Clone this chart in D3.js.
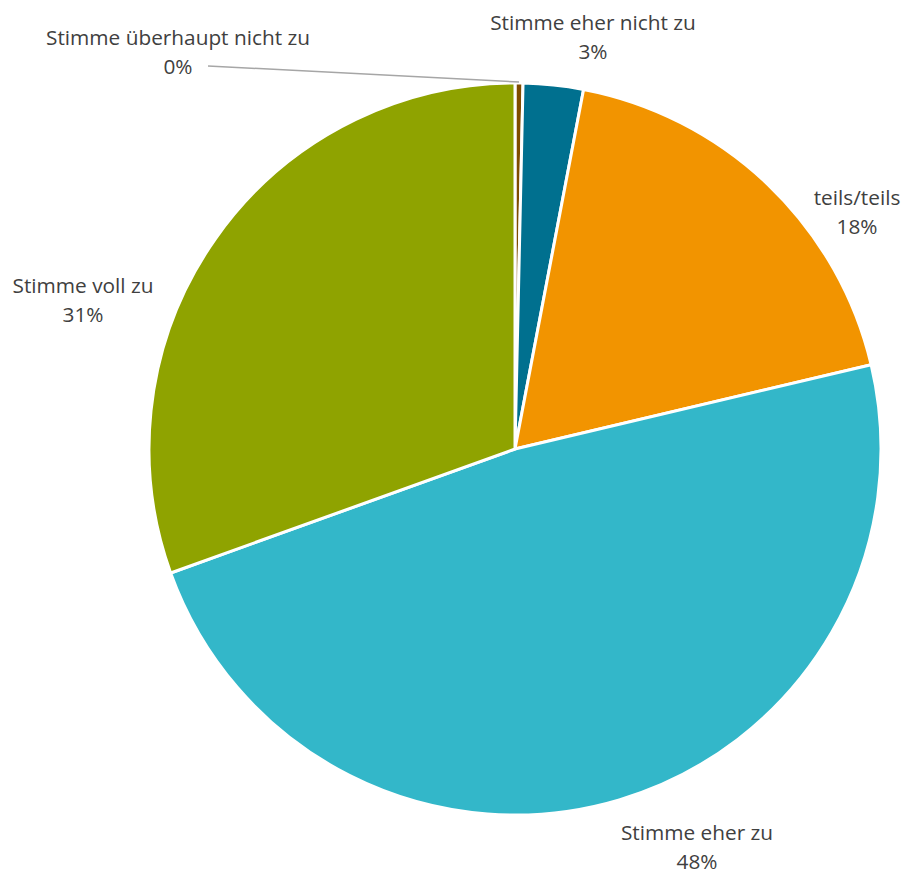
<!DOCTYPE html>
<html>
<head>
<meta charset="utf-8">
<script src="https://cdn.jsdelivr.net/npm/d3@7/dist/d3.min.js"></script>
<style>
  html, body { margin: 0; padding: 0; background: #ffffff; }
  svg { display: block; }
  text { font-family: "Open Sans", "Noto Sans", sans-serif; fill: #404040; }
</style>
</head>
<body>
<svg id="chart" width="906" height="875"></svg>
<script>
// ---- data ----
const categories = ["Stimme überhaupt nicht zu", "Stimme eher nicht zu", "teils/teils", "Stimme eher zu", "Stimme voll zu"];
const values = [0.35, 2.65, 18.3, 48.2, 30.5];
const percentLabels = ["0%", "3%", "18%", "48%", "31%"];
const colors = ["#7f4c00", "#00708f", "#f29400", "#33b7c9", "#8fa300"];

// ---- layout ----
const cx = 515, cy = 449, R = 366;
const svg = d3.select("#chart");

const data = categories.map((c, i) => ({ cat: c, value: values[i], label: percentLabels[i], color: colors[i] }));

const pie = d3.pie().sort(null).value(d => d.value).startAngle(0).endAngle(2 * Math.PI);
const arc = d3.arc().innerRadius(0).outerRadius(R);

const g = svg.append("g").attr("transform", `translate(${cx},${cy})`);
const arcs = pie(data);

g.selectAll("path.slice")
  .data(arcs)
  .join("path")
  .attr("class", "slice")
  .attr("d", arc)
  .attr("fill", d => d.data.color)
  .attr("stroke", "#ffffff")
  .attr("stroke-width", 3)
  .attr("stroke-linejoin", "round");

// label anchor positions (center x, first-line baseline y), per category index
const labelAnchors = [
  { x: 178, y: 45 },
  { x: 593, y: 30 },
  { x: 857, y: 205 },
  { x: 697, y: 840 },
  { x: 83,  y: 293 }
];
const lineGap = 28.5;
const fontSize = 20.8;

// leader line for the tiny slice
const tiny = arcs[0];
const tinyMid = (tiny.startAngle + tiny.endAngle) / 2;
const tx = cx + Math.sin(tinyMid) * R;
const ty = cy - Math.cos(tinyMid) * R;
svg.append("line")
  .attr("x1", 208).attr("y1", 66)
  .attr("x2", tx).attr("y2", ty - 1)
  .attr("stroke", "#a6a6a6")
  .attr("stroke-width", 1.5);

const labels = svg.selectAll("g.lbl")
  .data(arcs)
  .join("g")
  .attr("class", "lbl");

labels.append("text")
  .attr("x", (d, i) => labelAnchors[i].x)
  .attr("y", (d, i) => labelAnchors[i].y)
  .attr("text-anchor", "middle")
  .attr("font-size", fontSize)
  .text(d => d.data.cat);

labels.append("text")
  .attr("x", (d, i) => labelAnchors[i].x)
  .attr("y", (d, i) => labelAnchors[i].y + lineGap)
  .attr("text-anchor", "middle")
  .attr("font-size", fontSize)
  .text(d => d.data.label);
</script>
</body>
</html>
